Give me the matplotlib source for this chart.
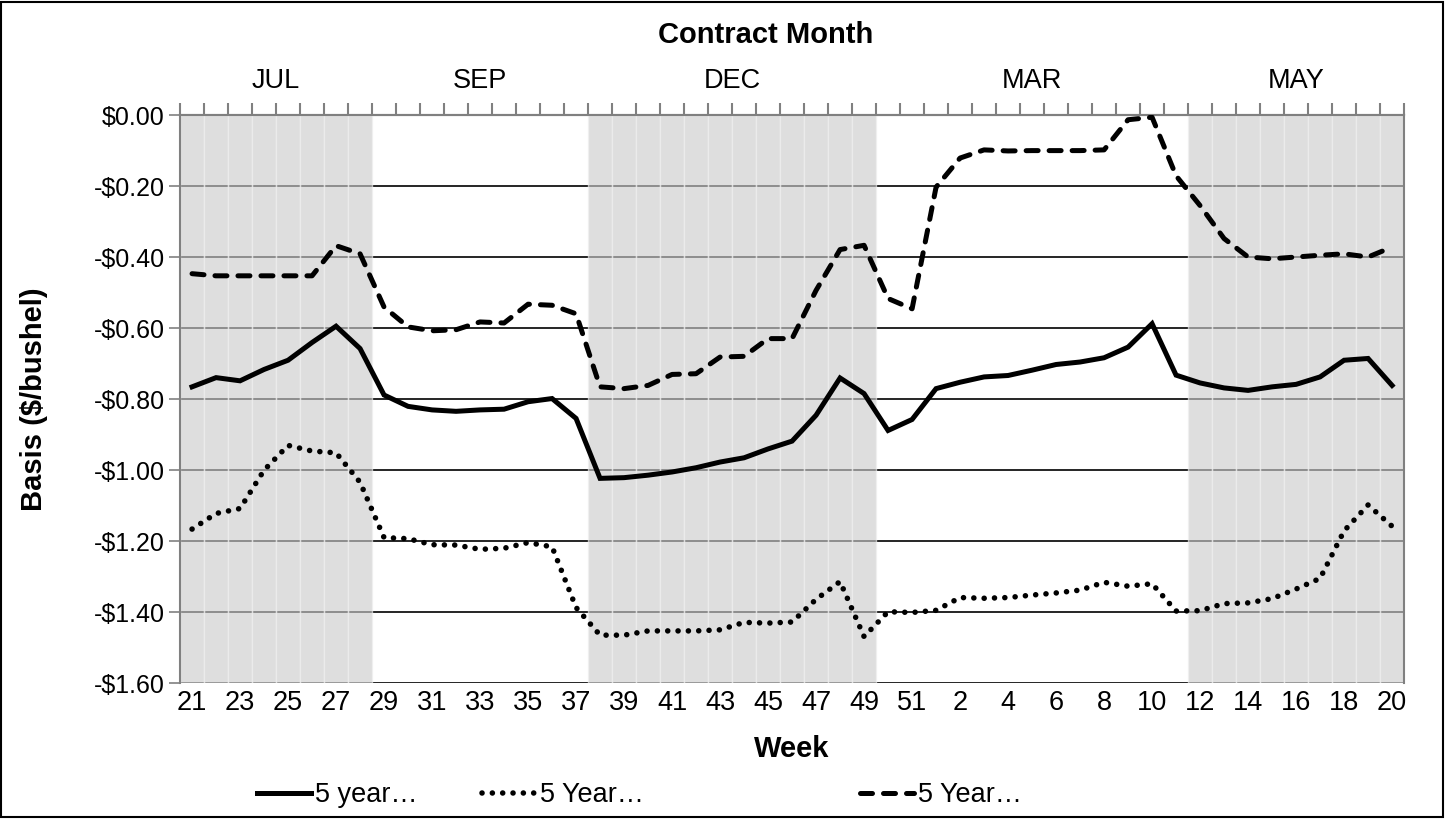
import matplotlib.pyplot as plt
import numpy as np
from matplotlib.patches import Rectangle
from matplotlib.ticker import FuncFormatter

plt.rcParams['font.family'] = ['Liberation Sans', 'DejaVu Sans']

# week of year, marketing year starting week 21
weeks = list(range(21, 52)) + list(range(1, 21))

# basis, $/bushel
avg_5yr = [-0.765, -0.739, -0.748, -0.716, -0.690, -0.640, -0.594, -0.657, -0.788, -0.820,
           -0.830, -0.834, -0.830, -0.828, -0.807, -0.798, -0.854, -1.023, -1.021, -1.014,
           -1.005, -0.993, -0.977, -0.965, -0.940, -0.918, -0.845, -0.740, -0.784, -0.888,
           -0.857, -0.770, -0.752, -0.737, -0.733, -0.718, -0.702, -0.695, -0.683, -0.653,
           -0.587, -0.732, -0.754, -0.768, -0.775, -0.765, -0.758, -0.737, -0.690, -0.685,
           -0.761]
low_5yr = [-1.166, -1.122, -1.108, -1.000, -0.930, -0.946, -0.951, -1.034, -1.190, -1.193,
           -1.210, -1.211, -1.223, -1.220, -1.204, -1.216, -1.387, -1.465, -1.465, -1.453,
           -1.453, -1.453, -1.450, -1.429, -1.431, -1.428, -1.364, -1.314, -1.469, -1.399,
           -1.401, -1.395, -1.359, -1.361, -1.359, -1.352, -1.346, -1.338, -1.316, -1.327,
           -1.320, -1.397, -1.396, -1.376, -1.374, -1.362, -1.335, -1.305, -1.171, -1.098,
           -1.158]
high_5yr = [-0.446, -0.452, -0.452, -0.452, -0.452, -0.452, -0.367, -0.390, -0.540, -0.596,
            -0.607, -0.604, -0.582, -0.585, -0.532, -0.535, -0.559, -0.765, -0.770, -0.761,
            -0.730, -0.728, -0.681, -0.679, -0.629, -0.629, -0.493, -0.378, -0.366, -0.516,
            -0.545, -0.202, -0.120, -0.097, -0.100, -0.099, -0.099, -0.099, -0.097, -0.012,
            -0.005, -0.170, -0.254, -0.347, -0.399, -0.404, -0.399, -0.394, -0.390, -0.399,
            -0.371]

months = ['JUL', 'SEP', 'DEC', 'MAR', 'MAY']
month_len = [8, 9, 12, 13, 9]
shaded = [True, False, True, False, True]

x = np.arange(len(weeks))

fig, ax = plt.subplots(figsize=(14.52, 8.19), dpi=100)
fig.subplots_adjust(left=0.124, right=0.967, top=0.859, bottom=0.166)

# contract month bands
edges = np.concatenate([[0], np.cumsum(month_len)])
for m in range(len(months)):
    if shaded[m]:
        idx = np.arange(edges[m], edges[m + 1])
        ax.bar(idx, 1.6, bottom=-1.6, width=1, color='#cbcbcb', alpha=0.63,
               edgecolor='#f0f0f0', linewidth=1, zorder=1)
    mid = (edges[m] + edges[m + 1] - 1) / 2
    ax.text(mid, 1.06, months[m], transform=ax.get_xaxis_transform(),
            ha='center', va='center', fontsize=19.5)

ax.plot(x, avg_5yr, color='black', lw=3.6, solid_joinstyle='miter', zorder=3,
        label='5 year\u2026')
ax.plot(x, low_5yr, color='black', lw=4.0, dashes=(0.01, 1.85), dash_capstyle='round',
        zorder=3, label='5 Year\u2026')
ax.plot(x, high_5yr, color='black', lw=3.6, dashes=(2.4, 2.2), dash_capstyle='round',
        zorder=3, label='5 Year\u2026')

ax.set_xlim(-0.5, len(weeks) - 0.5)
ax.set_ylim(-1.6, 0)
ax.set_yticks(np.arange(-1.6, 0.01, 0.2))
ax.yaxis.set_major_formatter(FuncFormatter(
    lambda v, p: '$0.00' if abs(v) < 1e-9 else '-${:.2f}'.format(abs(v))))
ax.set_xticks(x[::2])
ax.set_xticklabels([str(w) for w in weeks[::2]])
ax.tick_params(axis='x', length=0, labelsize=19.5, pad=5)
ax.tick_params(axis='y', length=8, color='#808080', width=1.2, labelsize=18, pad=3)
ax.grid(axis='y', color='black', lw=1.2)
ax.set_axisbelow(True)
for s in ['left', 'right', 'top']:
    ax.spines[s].set_color('#808080')
    ax.spines[s].set_linewidth(1.5)
ax.spines['bottom'].set_visible(False)

top = ax.secondary_xaxis('top')
top.set_xticks(np.arange(-0.5, len(weeks), 1))
top.tick_params(length=9, color='#808080', width=1.5, labeltop=False)
top.spines['top'].set_color('#808080')
top.spines['top'].set_linewidth(1.5)

ax.set_xlabel('Week', fontsize=21, fontweight='bold', labelpad=14)
ax.set_ylabel('Basis ($/bushel)', fontsize=21, fontweight='bold')
ax.yaxis.set_label_coords(-0.108, 0.5)
fig.text(0.527, 0.957, 'Contract Month', ha='center', va='center',
         fontsize=21, fontweight='bold')

handles = ax.get_lines()
for h, xpos in zip(handles, [0.177, 0.332, 0.592]):
    fig.legend([h], [h.get_label()], loc='center left', bbox_to_anchor=(xpos, 0.029),
               frameon=False, fontsize=19.5, handlelength=2.0, handletextpad=0.15,
               borderpad=0, borderaxespad=0)

fig.patches.append(Rectangle((0.001, 0.002), 0.993, 0.996, transform=fig.transFigure,
                             fill=False, edgecolor='black', lw=1.5))

fig.savefig('out.png', dpi=100)
